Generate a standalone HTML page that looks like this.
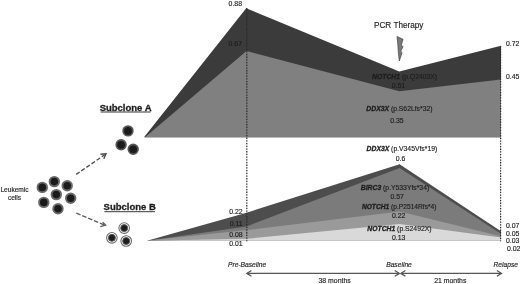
<!DOCTYPE html>
<html><head><meta charset="utf-8"><style>
html,body{margin:0;padding:0;background:#fff;width:520px;height:284px;overflow:hidden}
svg{display:block;will-change:transform}
text{font-family:"Liberation Sans",sans-serif;fill:#1e1e1e;stroke:#1e1e1e;stroke-width:0.15px}
.n{font-size:6.9px}
.b{font-weight:bold;font-style:italic;stroke-width:0.3px}
.i{font-style:italic;font-size:6.7px}
.m{font-size:6.8px}
</style></head><body>
<svg width="520" height="284" viewBox="0 0 520 284">
<defs>
<marker id="ah" viewBox="0 0 10 10" refX="9" refY="5" markerWidth="5" markerHeight="5" orient="auto-start-reverse">
<path d="M1,1 L9,5 L1,9" fill="none" stroke="#555" stroke-width="1.6"/>
</marker>
<marker id="dh" viewBox="0 0 10 10" refX="9" refY="5" markerWidth="5" markerHeight="5" orient="auto" markerUnits="userSpaceOnUse">
<path d="M1,1 L9,5 L1,9" fill="none" stroke="#444" stroke-width="2"/>
</marker>
<marker id="dh2" viewBox="0 0 10 10" refX="9" refY="5" markerWidth="5" markerHeight="5" orient="auto" markerUnits="userSpaceOnUse">
<path d="M1,1 L9,5 L1,9" fill="none" stroke="#666" stroke-width="2"/>
</marker>
</defs>

<!-- Subclone A chart -->
<polygon points="144,137.3 246.2,8.2 399.3,71.6 501,45.8 501,137.3" fill="#3b3b3b"/>
<polygon points="145,137.3 246.5,51.1 399.3,91.2 501,79.6 501,137.3" fill="#808080"/>

<!-- Subclone B chart -->
<polygon points="147,240.7 246.6,212.7 399.6,164.2 501,231.3 501,240.7" fill="#4d4d4d"/>
<polygon points="147,240.7 246.6,226.4 399.6,168 501,233.8 501,240.7" fill="#7b7b7b"/>
<polygon points="147,240.7 246.6,230.1 399.6,211.5 501,236.3 501,240.7" fill="#9a9a9a"/>
<polygon points="147,240.7 246.6,238.8 399.6,224 501,237.5 501,240.7" fill="#d9d9d9"/>

<!-- dotted lines -->
<line x1="246.8" y1="8" x2="246.8" y2="241.2" stroke="#ddd" stroke-width="1" style="mix-blend-mode:multiply"/>
<line x1="246.8" y1="8" x2="246.8" y2="241.2" stroke="#2e2e2e" stroke-width="1.2" stroke-dasharray="1.3,1.4"/>
<line x1="500.6" y1="46" x2="500.6" y2="241.2" stroke="#ddd" stroke-width="1" style="mix-blend-mode:multiply"/>
<line x1="500.6" y1="46" x2="500.6" y2="241.2" stroke="#2e2e2e" stroke-width="1.2" stroke-dasharray="1.3,1.4"/>

<!-- timeline -->
<g stroke="#555" stroke-width="1.25" fill="none">
<line x1="247" y1="273.4" x2="399" y2="273.4"/>
<line x1="401" y1="273.4" x2="501.3" y2="273.4"/>
<path d="M251.4,270.5 L246.8,273.4 L251.4,276.3"/>
<path d="M394.8,270.5 L399.4,273.4 L394.8,276.3"/>
<path d="M405.4,270.5 L400.8,273.4 L405.4,276.3"/>
<path d="M496.9,270.5 L501.5,273.4 L496.9,276.3"/>
</g>

<!-- lightning -->
<polygon points="397,36.5 403,39.3 401.4,45 403,46.8 400.8,51 402,52.8 399.3,61 398.3,52 397.8,44" fill="#7a7a7a" stroke="#404040" stroke-width="0.7" stroke-linejoin="round"/>
<text x="398.7" y="28.1" font-size="8.2" text-anchor="middle">PCR Therapy</text>

<!-- top chart labels -->
<text class="n" x="242" y="6.1" text-anchor="end">0.88</text>
<text class="n" x="242" y="45.8" text-anchor="end">0.67</text>
<text class="n" x="506" y="45.8">0.72</text>
<text class="n" x="506" y="78.5">0.45</text>
<text class="n m" x="404.6" y="79.2" text-anchor="middle"><tspan class="b">NOTCH1</tspan> (p.Q2403X)</text>
<text class="n" x="398.5" y="88" text-anchor="middle">0.51</text>
<text class="n m" x="399.4" y="111.4" text-anchor="middle"><tspan class="b">DDX3X</tspan> (p.S62Lfs*32)</text>
<text class="n" x="397" y="122.7" text-anchor="middle">0.35</text>

<!-- bottom chart labels -->
<text class="n m" x="401.9" y="151.2" text-anchor="middle"><tspan class="b">DDX3X</tspan> (p.V345Vfs*19)</text>
<text class="n" x="400.5" y="161.3" text-anchor="middle">0.6</text>
<text class="n m" x="395" y="190.2" text-anchor="middle"><tspan class="b">BIRC3</tspan> (p.Y533Yfs*34)</text>
<text class="n" x="397.2" y="198.9" text-anchor="middle">0.57</text>
<text class="n m" x="399.2" y="208.7" style="font-size:6.65px" text-anchor="middle"><tspan class="b">NOTCH1</tspan> (p.P2514Rfs*4)</text>
<text class="n" x="398.7" y="217.9" text-anchor="middle">0.22</text>
<text class="n m" x="399.4" y="231.4" text-anchor="middle"><tspan class="b">NOTCH1</tspan> (p.S2492X)</text>
<text class="n" x="398.7" y="240" text-anchor="middle">0.13</text>

<text class="n" x="242.6" y="214" text-anchor="end">0.22</text>
<text class="n" x="242.6" y="225.5" text-anchor="end">0.11</text>
<text class="n" x="242.6" y="237.3" text-anchor="end">0.08</text>
<text class="n" x="242.6" y="246" text-anchor="end">0.01</text>
<text class="n" x="506" y="227.6">0.07</text>
<text class="n" x="506" y="235.9">0.05</text>
<text class="n" x="506" y="242.9">0.03</text>
<text class="n" x="507" y="250.5">0.02</text>

<text class="n i" x="247.1" y="267" text-anchor="middle">Pre-Baseline</text>
<text class="n i" x="399" y="266.9" text-anchor="middle">Baseline</text>
<text class="n i" x="505.7" y="267.2" text-anchor="middle">Relapse</text>
<text class="n" x="334.6" y="283.1" text-anchor="middle">38 months</text>
<text class="n" x="450.3" y="283.1" text-anchor="middle">21 months</text>

<!-- left side -->
<text x="125.6" y="110.6" font-size="9.5" font-weight="bold" text-anchor="middle" style="stroke-width:0.3px">Subclone A</text>
<line x1="100.6" y1="112" x2="150.6" y2="112" stroke="#222" stroke-width="0.9"/>
<text x="129.7" y="210.3" font-size="9.5" font-weight="bold" text-anchor="middle" style="stroke-width:0.3px">Subclone B</text>
<line x1="104.4" y1="211.7" x2="155" y2="211.7" stroke="#222" stroke-width="0.9"/>

<text x="14.5" y="191.8" font-size="6.6" text-anchor="middle">Leukemic</text>
<text x="14.5" y="200" font-size="6.6" text-anchor="middle">cells</text>

<!-- dashed arrows -->
<line x1="76.2" y1="174.4" x2="104.5" y2="154.9" stroke="#4a4a4a" stroke-width="1.3" stroke-dasharray="4.2,2"/>
<path d="M100.4,154.2 L106,153.8 L103.8,158.7" fill="none" stroke="#4a4a4a" stroke-width="1.4" stroke-linejoin="miter"/>
<line x1="76.3" y1="213.1" x2="104.3" y2="225" stroke="#5e5e5e" stroke-width="1.3" stroke-dasharray="4.6,1.8"/>
<path d="M102.6,222.2 L105.7,225.2 L100.3,226.7" fill="none" stroke="#5e5e5e" stroke-width="1.3" stroke-linejoin="miter"/>

<!-- cells: leukemic -->
<g fill="#1b1b1b" stroke="#6a6a6a" stroke-width="1.9">
<circle cx="42.3" cy="187.4" r="4.75"/>
<circle cx="54.3" cy="181.6" r="4.75"/>
<circle cx="67.2" cy="185.8" r="4.75"/>
<circle cx="56.3" cy="194.6" r="4.75"/>
<circle cx="70.7" cy="198.3" r="4.75"/>
<circle cx="43.8" cy="202.4" r="4.75"/>
<circle cx="58" cy="208.8" r="4.75"/>
</g>
<g fill="#1b1b1b" stroke="#555" stroke-width="1.8">
<circle cx="128" cy="130.9" r="4.8"/>
<circle cx="121.1" cy="144.8" r="4.8"/>
<circle cx="133.2" cy="149.3" r="4.8"/>
</g>
<!-- subclone B -->
<g>
<circle cx="124.2" cy="228.1" r="5.3" fill="#fff" stroke="#6e6e6e" stroke-width="1.1"/>
<circle cx="124.2" cy="228.1" r="3.5" fill="#1c1c1c" stroke="#5a5a5a" stroke-width="1"/>
<circle cx="111.9" cy="237.8" r="5.3" fill="#fff" stroke="#6e6e6e" stroke-width="1.1"/>
<circle cx="111.9" cy="237.8" r="3.5" fill="#1c1c1c" stroke="#5a5a5a" stroke-width="1"/>
<circle cx="126.2" cy="241" r="5.3" fill="#fff" stroke="#6e6e6e" stroke-width="1.1"/>
<circle cx="126.2" cy="241" r="3.5" fill="#1c1c1c" stroke="#5a5a5a" stroke-width="1"/>
</g>
</svg>
</body></html>
